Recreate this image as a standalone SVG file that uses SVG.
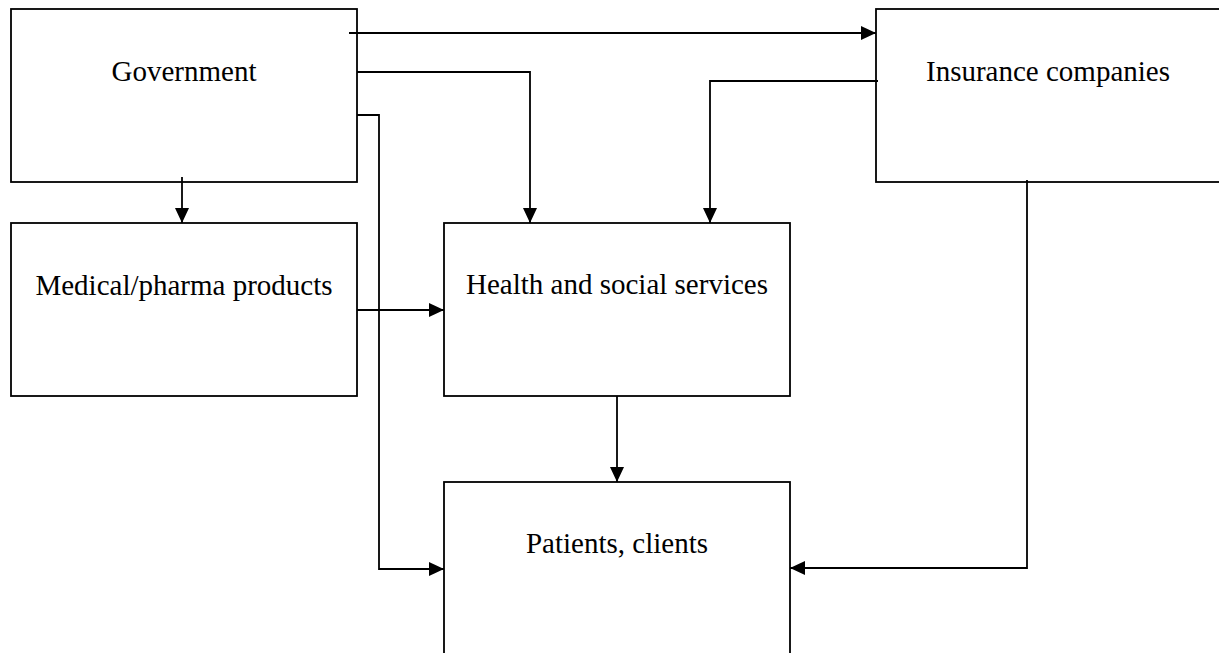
<svg xmlns="http://www.w3.org/2000/svg" width="1219" height="653" viewBox="0 0 1219 653">
<style>
.box{fill:#fff;stroke:#000;stroke-width:1.8}
.lbl{font-family:"Liberation Serif","Times New Roman",serif;font-size:29px;fill:#000;text-anchor:middle}
.c{fill:none;stroke:#000;stroke-width:1.8}
</style>
<defs>
<marker id="ah" markerUnits="userSpaceOnUse" markerWidth="15" markerHeight="15" refX="15" refY="7.5" orient="auto" viewBox="0 0 15 15">
<path d="M0,0.5 L15,7.5 L0,14.5 z" fill="#000"/>
</marker>
</defs>
<rect width="1219" height="653" fill="#fff"/>
<g id="government"><rect class="box" x="11" y="9" width="346" height="173"/><text class="lbl" x="184" y="81">Government</text></g>
<g id="insurance"><rect class="box" x="876" y="9" width="346" height="173"/><text class="lbl" x="1048" y="81">Insurance companies</text></g>
<g id="medical"><rect class="box" x="11" y="223" width="346" height="173"/><text class="lbl" x="184" y="295">Medical/pharma products</text></g>
<g id="health"><rect class="box" x="444" y="223" width="346" height="173"/><text class="lbl" x="617" y="294">Health and social services</text></g>
<g id="patients"><rect class="box" x="444" y="482" width="346" height="180"/><text class="lbl" x="617" y="553">Patients, clients</text></g>
<g id="connectors">
<path class="c" d="M349,33 H876" marker-end="url(#ah)"/>
<path class="c" d="M357,72 H530 V223" marker-end="url(#ah)"/>
<path class="c" d="M357,115 H379 V569 H444" marker-end="url(#ah)"/>
<path class="c" d="M182,177 V223" marker-end="url(#ah)"/>
<path class="c" d="M357,310 H444" marker-end="url(#ah)"/>
<path class="c" d="M878,81 H710 V223" marker-end="url(#ah)"/>
<path class="c" d="M617,396 V482" marker-end="url(#ah)"/>
<path class="c" d="M1027,180 V568 H790" marker-end="url(#ah)"/>
</g>
</svg>
